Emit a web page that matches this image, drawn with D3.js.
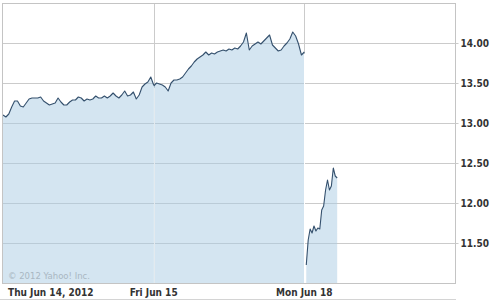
<!DOCTYPE html>
<html><head><meta charset="utf-8">
<script src="https://cdn.jsdelivr.net/npm/d3@7"></script>
<style>
html,body{margin:0;padding:0;background:#fff;}
svg{display:block;}
</style></head>
<body>
<svg id="c" width="496" height="308"></svg>
<script>
// ---- data ----
const dayLabels = ["Thu Jun 14, 2012", "Fri Jun 15", "Mon Jun 18"];
const dayStartMinute = [0, 0, 5];   // first sample, minutes after 9:30
const dayStepMinutes = [7.5, 7.5, 5];
const thuValues = [13.1,13.075,13.1125,13.2,13.275,13.275,13.2125,13.2,13.25,13.3,13.3125,13.3125,13.3125,13.325,
  13.275,13.25,13.225,13.2375,13.25,13.3125,13.2625,13.225,13.225,13.2625,13.2875,13.2875,13.325,13.3125,13.275,
  13.3,13.2875,13.3,13.3375,13.3125,13.3125,13.3375,13.3125,13.3375,13.375,13.3375,13.3125,13.35,13.4,13.3375,
  13.35,13.3875,13.3,13.35,13.45,13.4875,13.5125,13.575,13.475];
const friValues = [13.4625,13.5,13.4875,13.475,13.45,13.4,13.5,13.5375,13.5375,13.55,13.575,13.625,13.675,13.7125,
  13.7625,13.8,13.825,13.85,13.8875,13.85,13.875,13.8625,13.8875,13.9,13.9125,13.9,13.925,13.9125,13.9375,13.925,
  13.9625,14.0125,14.125,13.9125,13.9625,13.9875,14.0125,13.9875,14.025,14.0625,14.1,13.975,13.9375,13.9,13.9125,
  13.9625,14.0,14.05,14.1375,14.0875,13.9875,13.85,13.8875];
const monValues = [11.225,11.5375,11.675,11.625,11.7125,11.65,11.6875,11.675,11.9125,11.9625,12.1625,12.2875,
  12.1625,12.2125,12.4375,12.3375,12.3125];
const yTicks = [11.5, 12.0, 12.5, 13.0, 13.5, 14.0];
const yDomain = [11.0, 14.5];
const sessionMinutes = 390;
const copyright = "© 2012 Yahoo! Inc.";

// ---- layout ----
const L = 3, R = 455, T = 3, B = 283;
const svg = d3.select("#c");
const x = d3.scaleLinear().domain([0, sessionMinutes * 3]).range([L, R]);
const y = d3.scaleLinear().domain(yDomain).range([B, T]);

const days = [thuValues, friValues, monValues].map((vals, di) =>
  vals.map((v, i) => ({ t: di * sessionMinutes + dayStartMinute[di] + i * dayStepMinutes[di], v })));

const gridColor = "#cbcbcb";
svg.append("g").selectAll("line").data(yTicks).join("line")
  .attr("x1", L).attr("x2", R)
  .attr("y1", d => Math.round(y(d)) + 0.5).attr("y2", d => Math.round(y(d)) + 0.5)
  .attr("stroke", gridColor).attr("stroke-width", 1);
const sepMinutes = [sessionMinutes, sessionMinutes * 2];
svg.append("g").selectAll("line").data(sepMinutes).join("line")
  .attr("x1", d => Math.round(x(d)) + 0.5).attr("x2", d => Math.round(x(d)) + 0.5)
  .attr("y1", T).attr("y2", B)
  .attr("stroke", gridColor);

const area = d3.area().x(d => x(d.t)).y0(B).y1(d => y(d.v));
svg.append("g").selectAll("path").data(days).join("path")
  .attr("d", area).attr("fill", "#a9cbe3").attr("fill-opacity", 0.5);

const sepTops = [days[1][0].v, days[1][days[1].length - 1].v];
svg.append("g").selectAll("line").data(sepMinutes).join("line")
  .attr("x1", d => Math.round(x(d)) + 0.5).attr("x2", d => Math.round(x(d)) + 0.5)
  .attr("y1", (d, i) => y(sepTops[i]) + 2).attr("y2", B)
  .attr("stroke", "#ffffff").attr("stroke-opacity", (d, i) => i === 0 ? 0.6 : 1);

const line = d3.line().x(d => x(d.t)).y(d => y(d.v));
svg.append("g").selectAll("path").data(days).join("path")
  .attr("d", line).attr("fill", "none").attr("stroke", "#34506d")
  .attr("stroke-width", 1.1).attr("stroke-linejoin", "round");

const border = "#c4c4c4";
svg.append("rect").attr("x", L - 0.5).attr("y", T + 0.5).attr("width", R - L + 1).attr("height", B - T)
  .attr("fill", "none").attr("stroke", border);
svg.append("line").attr("x1", 0).attr("x2", R + 1).attr("y1", 299.5).attr("y2", 299.5)
  .attr("stroke", "#d4d4d4");

const yAxis = d3.axisRight(y).tickValues(yTicks).tickFormat(d3.format(".2f")).tickSize(3).tickPadding(2);
const ga = svg.append("g").attr("transform", `translate(${R + 0.5},0)`).call(yAxis);
ga.select(".domain").remove();
ga.selectAll(".tick line").attr("stroke", gridColor);
ga.selectAll(".tick text").attr("fill", "#333").attr("font-family", "DejaVu Sans Condensed, DejaVu Sans")
  .attr("font-weight", "bold").attr("font-size", 10);

svg.append("g").selectAll("text").data(dayLabels).join("text")
  .attr("x", (d, i) => i === 0 ? x(0) + 5 : x(i * sessionMinutes))
  .attr("y", 296)
  .attr("text-anchor", (d, i) => i === 0 ? "start" : "middle")
  .attr("font-family", "DejaVu Sans Condensed, DejaVu Sans").attr("font-weight", "bold")
  .attr("font-size", 10).attr("fill", "#333").text(d => d);

svg.append("text").attr("x", 8).attr("y", 279).attr("font-family", "DejaVu Sans")
  .attr("font-size", 8.5).attr("fill", "#a9b7c2").text(copyright);
</script>
</body></html>
